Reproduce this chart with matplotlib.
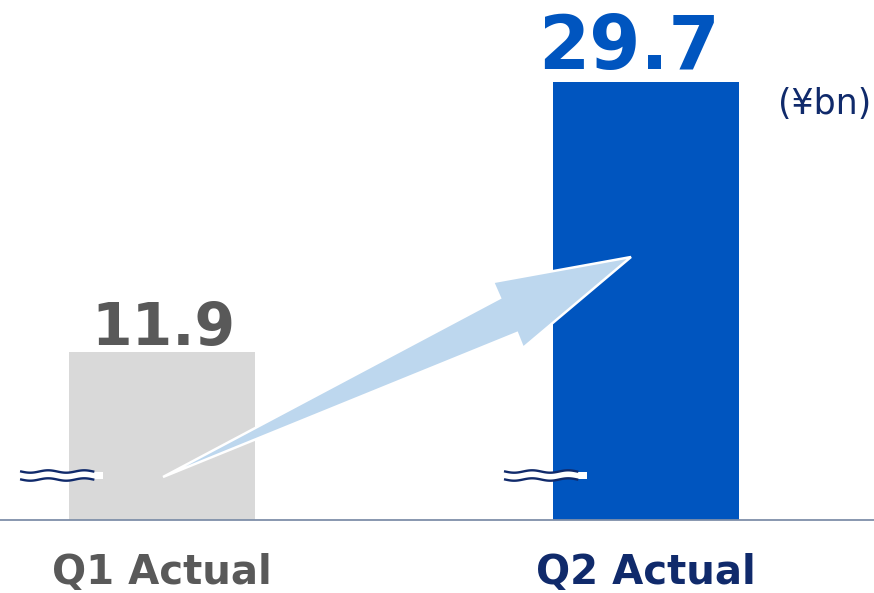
import numpy as np
import matplotlib
matplotlib.use("Agg")
import matplotlib.pyplot as plt
from matplotlib.patches import Polygon, Rectangle

categories = ["Q1 Actual", "Q2 Actual"]
values = [11.9, 29.7]
value_labels = ["11.9", "29.7"]
unit_label = "(¥bn)"

bar_colors = ["#D9D9D9", "#0055BF"]
value_colors = ["#595959", "#0055BF"]
cat_colors = ["#595959", "#102A6B"]
navy = "#102A6B"

W, H, DPI = 8.74, 5.93, 100
fig = plt.figure(figsize=(W, H), dpi=DPI)
ax = fig.add_axes([0, (593 - 520) / 593, 1, 520 / 593])
x = np.arange(len(categories))
ax.bar(x, values, width=0.384, color=bar_colors, zorder=2)
ax.set_xlim(-0.335, 1.471)
ax.set_ylim(0.824, 35.1)
for s in ["top", "right", "left"]:
    ax.spines[s].set_visible(False)
ax.spines["bottom"].set_color("#7F8FA9")
ax.spines["bottom"].set_linewidth(1.3)
ax.set_yticks([])
ax.set_xticks(x)
ax.set_xticklabels(categories, fontsize=29, fontweight="bold")
for lab, c in zip(ax.get_xticklabels(), cat_colors):
    lab.set_color(c)
ax.tick_params(axis="x", length=0, pad=24)

sizes = [42, 53]
offsets = [(1, 5), (-12, 9)]
for xi, v, t, c, s, o in zip(x, values, value_labels, value_colors, sizes, offsets):
    ax.annotate(t, (xi, v), xytext=o, textcoords="offset points", ha="center",
                va="baseline", fontsize=s, fontweight="bold", color=c)

fig.text(871 / 874, (593 - 114) / 593, unit_label, ha="right", va="baseline",
         fontsize=25, color=navy)

# pixel helper (y from top)
def px(xp, yp):
    return (xp / DPI, (593 - yp) / DPI)

fig.canvas.draw()
# arrow from Q1 bar to Q2 bar
pts = [(163, 477), (500, 298), (493, 282), (631, 257), (523, 348), (517, 333)]
arrow = Polygon([px(*p) for p in pts], closed=True, transform=fig.dpi_scale_trans,
                facecolor="#BDD7EE", edgecolor="white", linewidth=1.8, zorder=5)
fig.add_artist(arrow)

# axis break marks
for xi in x:
    left_disp = ax.transData.transform((xi - 0.384 / 2, 0))[0]
    x0 = left_disp - 48
    xs = np.linspace(x0, x0 + 72, 100)
    phase = (xs - x0) / 36 * 2 * np.pi
    y1 = 471.5 + 1.2 * np.sin(phase)
    y2 = 479.5 + 1.2 * np.sin(phase)
    poly = np.concatenate([np.column_stack([xs, y1]), np.column_stack([xs[::-1], y2[::-1]])])
    fig.add_artist(Polygon([px(a, b) for a, b in poly], closed=True,
                           transform=fig.dpi_scale_trans, facecolor="white",
                           edgecolor="none", zorder=6))
    fig.add_artist(Rectangle(px(x0 + 70, 478.5), 12 / DPI, 6.5 / DPI,
                             transform=fig.dpi_scale_trans, facecolor="white",
                             edgecolor="none", zorder=6))
    for yy in (y1, y2):
        fig.add_artist(plt.Line2D([a / DPI for a in xs], [(593 - b) / DPI for b in yy],
                                  transform=fig.dpi_scale_trans, color=navy,
                                  linewidth=1.7, zorder=7))

fig.savefig("out.png", dpi=DPI)
